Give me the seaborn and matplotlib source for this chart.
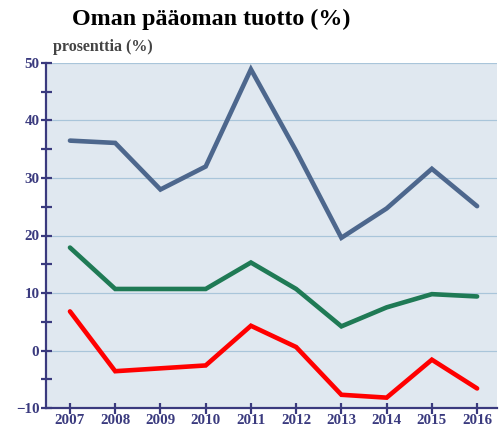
import matplotlib
matplotlib.use("Agg")
import matplotlib.pyplot as plt
import seaborn as sns
import pandas as pd
from matplotlib.ticker import MultipleLocator

years = [2007, 2008, 2009, 2010, 2011, 2012, 2013, 2014, 2015, 2016]
series_a = [36.5, 36.1, 28.0, 32.0, 48.9, 34.7, 19.6, 24.7, 31.6, 25.1]
series_b = [17.9, 10.7, 10.7, 10.7, 15.3, 10.7, 4.2, 7.5, 9.8, 9.4]
series_c = [6.8, -3.6, -3.1, -2.6, 4.3, 0.6, -7.7, -8.2, -1.6, -6.6]
series_names = ["A", "B", "C"]
colors = ["#4D678D", "#1F7A55", "#FF0000"]

df = pd.DataFrame({
    "year": years * 3,
    "value": series_a + series_b + series_c,
    "series": [series_names[0]] * 10 + [series_names[1]] * 10 + [series_names[2]] * 10,
})

sns.set_style("white")
plt.rcParams["font.family"] = ["Liberation Serif", "DejaVu Serif"]

fig = plt.figure(figsize=(7, 6), dpi=72)
ax = fig.add_axes([46 / 504, 1 - 408 / 432, (497 - 46) / 504, (408 - 63) / 432])
ax.set_facecolor("#E0E8F0")

navy = "#3A3A7E"
ax.set_ylim(-10, 50)
ax.set_xlim(2006.47, 2016.44)
ax.yaxis.set_major_locator(MultipleLocator(10))
ax.yaxis.set_minor_locator(MultipleLocator(5))
ax.set_xticks(years)
ax.grid(axis="y", which="major", color="#A9C5DA", linewidth=1.2)
ax.set_axisbelow(True)

sns.lineplot(data=df, x="year", y="value", hue="series", palette=colors,
             linewidth=4.6, ax=ax, legend=False, solid_joinstyle="miter")

for s in ["top", "right"]:
    ax.spines[s].set_visible(False)
for s in ["left", "bottom"]:
    ax.spines[s].set_color(navy)
    ax.spines[s].set_linewidth(2.2)

ax.tick_params(axis="both", which="both", direction="inout", length=11, width=2.2,
               color=navy, labelcolor=navy, labelsize=15, bottom=True, left=True)
ax.tick_params(axis="y", pad=1)
ax.tick_params(axis="x", pad=1)
for lab in ax.get_xticklabels() + ax.get_yticklabels():
    lab.set_fontweight("bold")
ax.set_xlabel("")
ax.set_ylabel("")

fig.text(72 / 504, 1 - 19 / 432, "Oman pääoman tuotto (%)", fontsize=24, fontweight="bold",
         color="black", va="center", ha="left")
fig.text(53 / 504, 1 - 47 / 432, "prosenttia (%)", fontsize=16, fontweight="bold",
         color="#444444", va="center", ha="left")

fig.savefig("out.png", dpi=72)
